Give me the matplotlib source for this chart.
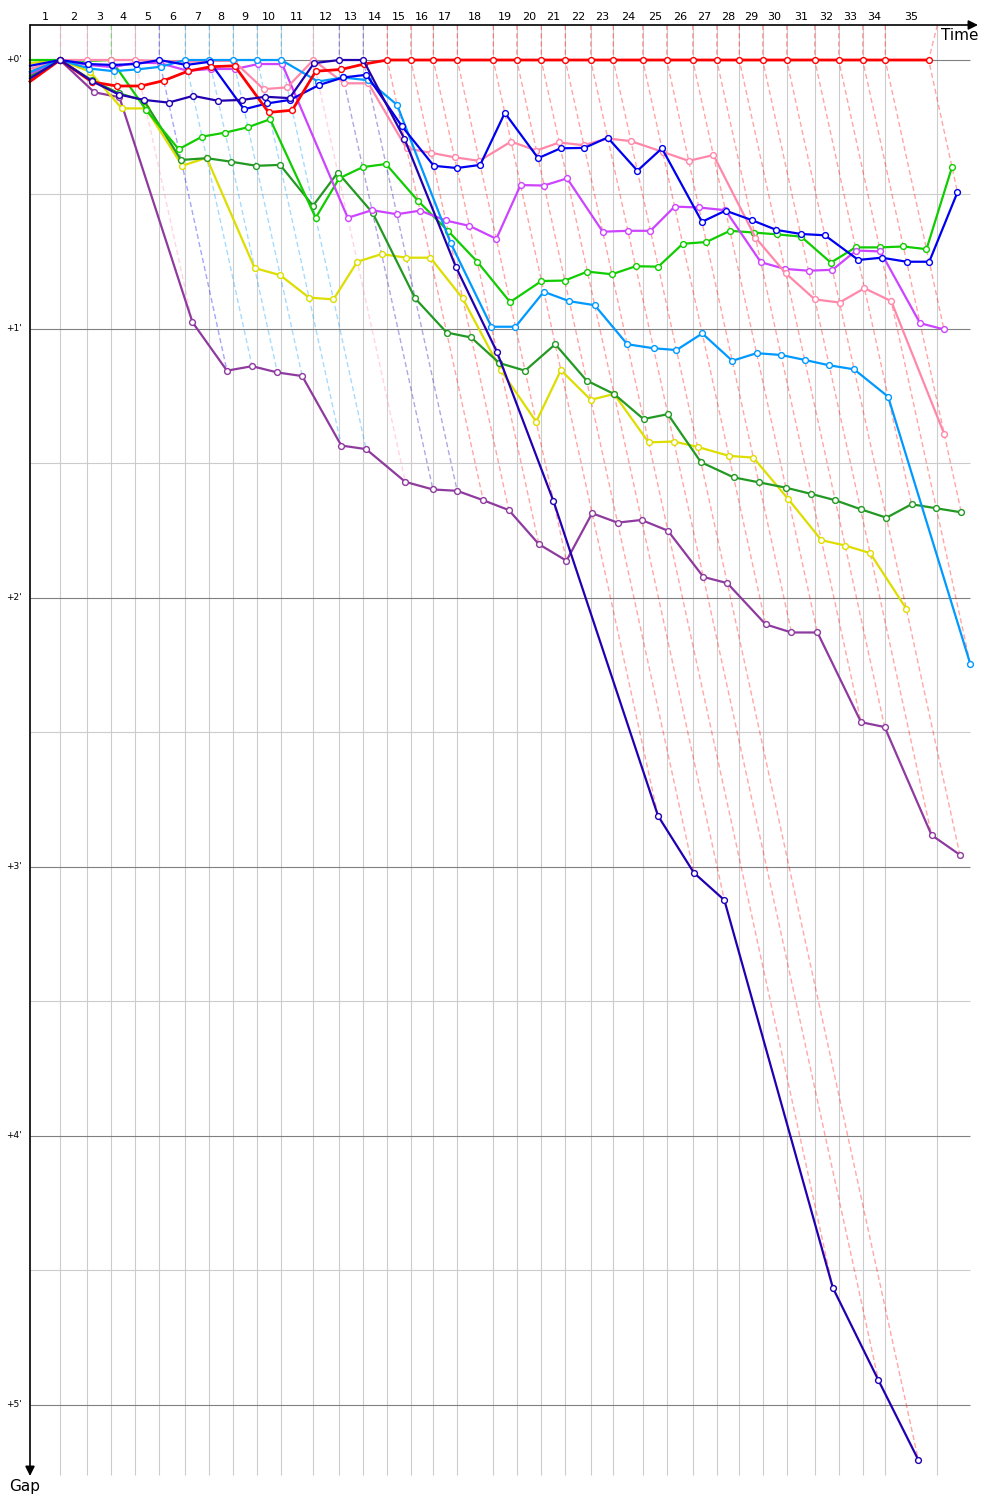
import matplotlib.pyplot as plt

# leader lap times (s) and the race end time
lap_times = [30.7, 58.6, 83.2, 107.8, 132.3, 159.0, 183.5, 208.1, 232.6, 257.2,
             290.0, 316.6, 341.1, 365.7, 389.7, 412.8, 437.4, 474.2, 498.2, 523.3,
             547.9, 573.9, 597.0, 627.1, 651.7, 678.3, 702.9, 726.0, 749.9, 774.5,
             803.2, 827.7, 852.3, 875.4, 919.8]
flag_time = 928.7
lap_leader = ['pink', 'pink', 'green', 'pink', 'blue'] + ['lightblue'] * 5 + \
             ['pink', 'navy', 'navy'] + ['red'] * 22

# gap to leader (s) at the end of each lap, per car
red = [0, 4.9, 5.8, 5.8, 4.6, 2.5, 1.5, 1.3, 11.7, 11.2, 2.5, 2.1, 0.9] + [0] * 22
navy = [0, 4.7, 7.7, 8.9, 9.5, 8.0, 9.1, 8.9, 8.2, 8.5, 0.7, 0, 0, 17.6, 46.1, 65.1,
        98.4, 168.6, 181.3, 187.4, 273.9, 294.5, 312.3]
blue = [0, 0.9, 1.1, 0.9, 0, 1.1, 0.4, 11.0, 9.7, 8.9, 5.6, 3.9, 3.3, 14.7, 23.6, 24.1,
        23.4, 11.8, 21.9, 19.7, 19.6, 17.3, 24.7, 19.7, 36.1, 33.6, 35.7, 37.9, 38.8,
        39.1, 44.6, 44.1, 45.0, 45.0, 29.5]
lightblue = [0, 1.9, 2.5, 2.1, 1.5, 0, 0, 0, 0, 0, 4.8, 3.9, 4.5, 10.0, 40.8, 59.5,
             59.5, 51.7, 53.8, 54.7, 63.4, 64.3, 64.7, 61.0, 67.1, 65.4, 65.8, 66.9,
             68.1, 69.0, 75.1, 134.7]
pink = [0, 0, 0, 0, 0.2, 0.4, 0.2, 0.2, 6.5, 6.1, 0, 5.2, 5.2, 19.7, 20.7, 21.7, 22.5,
        18.2, 20.2, 18.4, 19.0, 17.5, 18.1, 20.5, 22.5, 21.2, 39.6, 47.6, 53.4, 54.1,
        50.9, 53.8, 83.4]
magenta = [0, 1.1, 1.6, 0.6, 0.7, 2.4, 2.0, 2.0, 0.9, 0.9, 35.2, 33.5, 34.4, 33.6,
           35.8, 37.0, 39.9, 27.9, 28.0, 26.4, 38.3, 38.1, 38.1, 32.7, 32.9, 33.5,
           45.1, 46.6, 47.0, 46.8, 42.5, 42.7, 58.7, 60.1]
green = [0, 0.2, 0, 11.2, 19.9, 17.1, 16.2, 15.0, 13.2, 35.2, 26.4, 23.9, 23.2, 31.4,
         38.1, 45.0, 54.0, 49.3, 49.2, 47.2, 47.8, 46.0, 46.1, 41.0, 40.6, 38.1, 38.5,
         38.9, 39.4, 45.2, 41.8, 41.8, 41.6, 42.2, 23.9]
darkgreen = [0, 4.5, 7.4, 9.1, 22.3, 21.9, 22.7, 23.6, 23.4, 32.5, 25.1, 34.1, 53.2,
             60.8, 61.9, 67.6, 69.3, 63.4, 71.5, 74.5, 80.1, 79.0, 89.7, 93.1, 94.2,
             95.4, 96.8, 98.2, 100.2, 102.1, 99.1, 100.0, 100.9]
yellow = [0, 2.6, 10.8, 10.8, 23.6, 21.8, 46.4, 48.0, 53.0, 53.4, 45.0, 43.3, 44.1,
          44.1, 53.2, 69.2, 80.7, 69.2, 75.8, 74.5, 85.3, 85.1, 86.3, 88.3, 88.7, 98.0,
          107.1, 108.3, 110.0, 122.4]
purple = [0, 7.2, 8.3, 58.5, 69.3, 68.3, 69.7, 70.5, 86.0, 86.8, 94.1, 95.8, 96.1,
          98.2, 100.4, 108.0, 111.7, 101.1, 103.2, 102.6, 105.0, 115.3, 116.7, 125.9,
          127.7, 127.7, 147.7, 148.8, 172.9, 177.3]

# gap on the starting grid
start_gap = {'red': 4.8, 'navy': 4.1, 'blue': 1.3, 'lightblue': 2.7, 'pink': 2.0,
             'magenta': 3.1, 'green': 0, 'darkgreen': 3.6, 'yellow': 0.7, 'purple': 2.7}

colors = {'red': '#ff0000', 'navy': '#2200b0', 'blue': '#0000f0', 'lightblue': '#0099ff',
          'pink': '#ff88aa', 'magenta': '#cc44ff', 'green': '#11cc00',
          'darkgreen': '#229922', 'yellow': '#dddd00', 'purple': '#8e3a9e'}

# drawing order, last one on top
cars = [('purple', purple), ('yellow', yellow), ('darkgreen', darkgreen), ('green', green),
        ('magenta', magenta), ('pink', pink), ('lightblue', lightblue), ('blue', blue),
        ('red', red), ('navy', navy)]

px_x = 0.977   # pixels per second along time
px_y = 4.483   # pixels per second of gap

fig = plt.figure(figsize=(10, 15), dpi=100)
ax = fig.add_axes([0.03, 1 - 1480 / 1500, 0.95, 1455 / 1500])
xmax = 950 / px_x
ytop = (25 - 60) / px_y
ybot = (1480 - 60) / px_y
ax.set_xlim(0, xmax)
ax.set_ylim(ybot, ytop)
ax.axis('off')

# grid
grid_x = lap_times[:-1] + [flag_time]
ax.vlines(grid_x, ytop, (1475 - 60) / px_y, color='#cccccc', lw=0.8, zorder=0)
hx = 940 / px_x
for m in range(6):
    ax.hlines(m * 60, 0, hx, color='#808080', lw=0.8, zorder=0)
    ax.text(-8 / px_x, m * 60, "+%d'" % m, ha='right', va='center', fontsize=6.5)
for m in range(5):
    ax.hlines(m * 60 + 30, 0, hx, color='#cccccc', lw=0.8, zorder=0)

# lap numbers
bounds = [0] + grid_x
for i in range(len(grid_x)):
    ax.text((bounds[i] + bounds[i + 1]) / 2, -9.6, str(i + 1), ha='center', va='center',
            fontsize=8, clip_on=False)

# lap lines (dashed)
for i, t in enumerate(lap_times):
    gmax = max(g[i] for _, g in cars if len(g) > i)
    ax.plot([grid_x[i], t, t + gmax], [ytop, 0, gmax], color=colors[lap_leader[i]],
            alpha=0.35, lw=1, ls=(0, (3.7, 2.2)), zorder=1)

# cars
for name, gaps in cars:
    xs = [0] + [lap_times[i] + g for i, g in enumerate(gaps)]
    ys = [start_gap[name]] + gaps
    ax.plot(xs, ys, color=colors[name], lw=2.0 if name == 'red' else 1.6,
            marker='o', ms=4.2, mfc='white', mew=1.0,
            markevery=list(range(1, len(xs))), zorder=3, clip_on=False)

# axes arrows
ax.annotate('', xy=(948 / px_x, ytop), xytext=(0, ytop), annotation_clip=False,
            arrowprops=dict(arrowstyle='-|>', color='black', lw=1.2, mutation_scale=14,
                            shrinkA=0, shrinkB=0))
ax.annotate('', xy=(0, (1476 - 60) / px_y), xytext=(0, ytop), annotation_clip=False,
            arrowprops=dict(arrowstyle='-|>', color='black', lw=1.2, mutation_scale=14,
                            shrinkA=0, shrinkB=0))
ax.text(930 / px_x, (35 - 60) / px_y, 'Time', ha='center', va='center', fontsize=11)
ax.text(-5 / px_x, (1486 - 60) / px_y, 'Gap', ha='center', va='center', fontsize=11,
        clip_on=False)

fig.savefig('out.png', dpi=100)
